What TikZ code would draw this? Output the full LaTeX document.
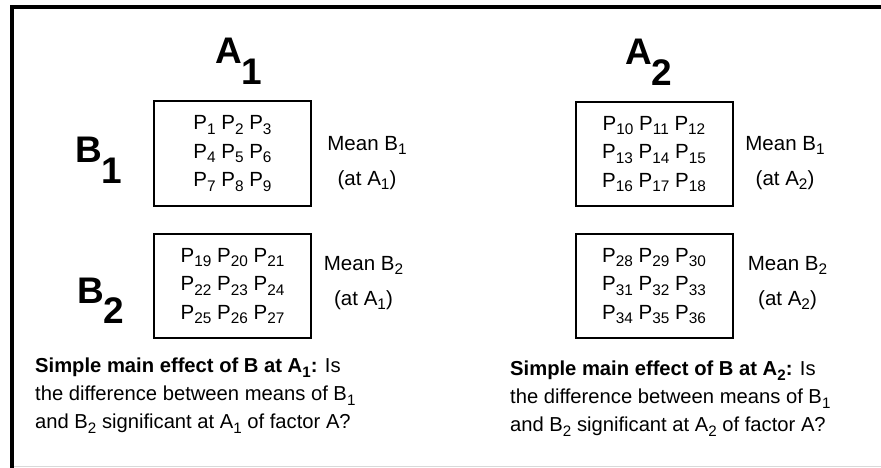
\documentclass[tikz,border=0pt]{standalone}
\usepackage{fontspec}
\setmainfont{Liberation Sans}
\newcommand{\sbs}[1]{\raisebox{-.22em}{\scalebox{.75}{#1}}}
\newcommand{\bigsub}[1]{\raisebox{-.55em}{#1}}
\newcommand{\prow}[1]{P\sbs{#1} P\sbs{\the\numexpr#1+1\relax} P\sbs{\the\numexpr#1+2\relax}}
\newcommand{\pgrid}[1]{\prow{#1}\\\prow{\the\numexpr#1+3\relax}\\\prow{\the\numexpr#1+6\relax}}
\begin{document}
\begin{tikzpicture}[x=1pt,y=-1pt,
    cellbox/.style={draw,line width=2pt,minimum width=157pt,minimum height=104pt,align=center,font=\fontsize{20.5}{28.5}\selectfont},
    meanlbl/.style={align=center,font=\fontsize{20.5}{35}\selectfont},
    factor/.style={anchor=base west,inner sep=0pt,font=\fontsize{37}{40}\selectfont\bfseries},
    note/.style={anchor=north west,align=left,inner sep=0pt,font=\fontsize{20.2}{28}\selectfont}]
    \useasboundingbox (0,0) rectangle (881,468);
    \draw[line width=4pt] (12,468) -- (12,7) -- (881,7);
    \draw[gray!30] (14,466) -- (881,466);
    \node[factor] (a1) at (215,64) {A\bigsub{1}};
    \node[factor] (a2) at (625,65) {A\bigsub{2}};
    \node[factor] (b1) at (75,163) {B\bigsub{1}};
    \node[factor] (b2) at (77,303) {B\bigsub{2}};
    \foreach \name/\cx/\cy/\first in {b1a1/232.5/153.5/1,b2a1/232.5/286/19,b1a2/654/154/10,b2a2/654/286/28} {
      \node[cellbox] (\name) at (\cx,\cy) {\pgrid{\first}};
    }
    \node[meanlbl] (m1a1) at (367,163) {Mean B\sbs{1}\\(at A\sbs{1})};
    \node[meanlbl] (m2a1) at (363.5,283) {Mean B\sbs{2}\\(at A\sbs{1})};
    \node[meanlbl] (m1a2) at (785,163) {Mean B\sbs{1}\\(at A\sbs{2})};
    \node[meanlbl] (m2a2) at (787.5,283) {Mean B\sbs{2}\\(at A\sbs{2})};
    \node[note] (effa1) at (35,358) {\textbf{Simple main effect of B at A\sbs{1}:} Is\\the difference between means of B\sbs{1}\\and B\sbs{2} significant at A\sbs{1} of factor A?};
    \node[note] (effa2) at (510,361) {\textbf{Simple main effect of B at A\sbs{2}:} Is\\the difference between means of B\sbs{1}\\and B\sbs{2} significant at A\sbs{2} of factor A?};
\end{tikzpicture}
\end{document}
